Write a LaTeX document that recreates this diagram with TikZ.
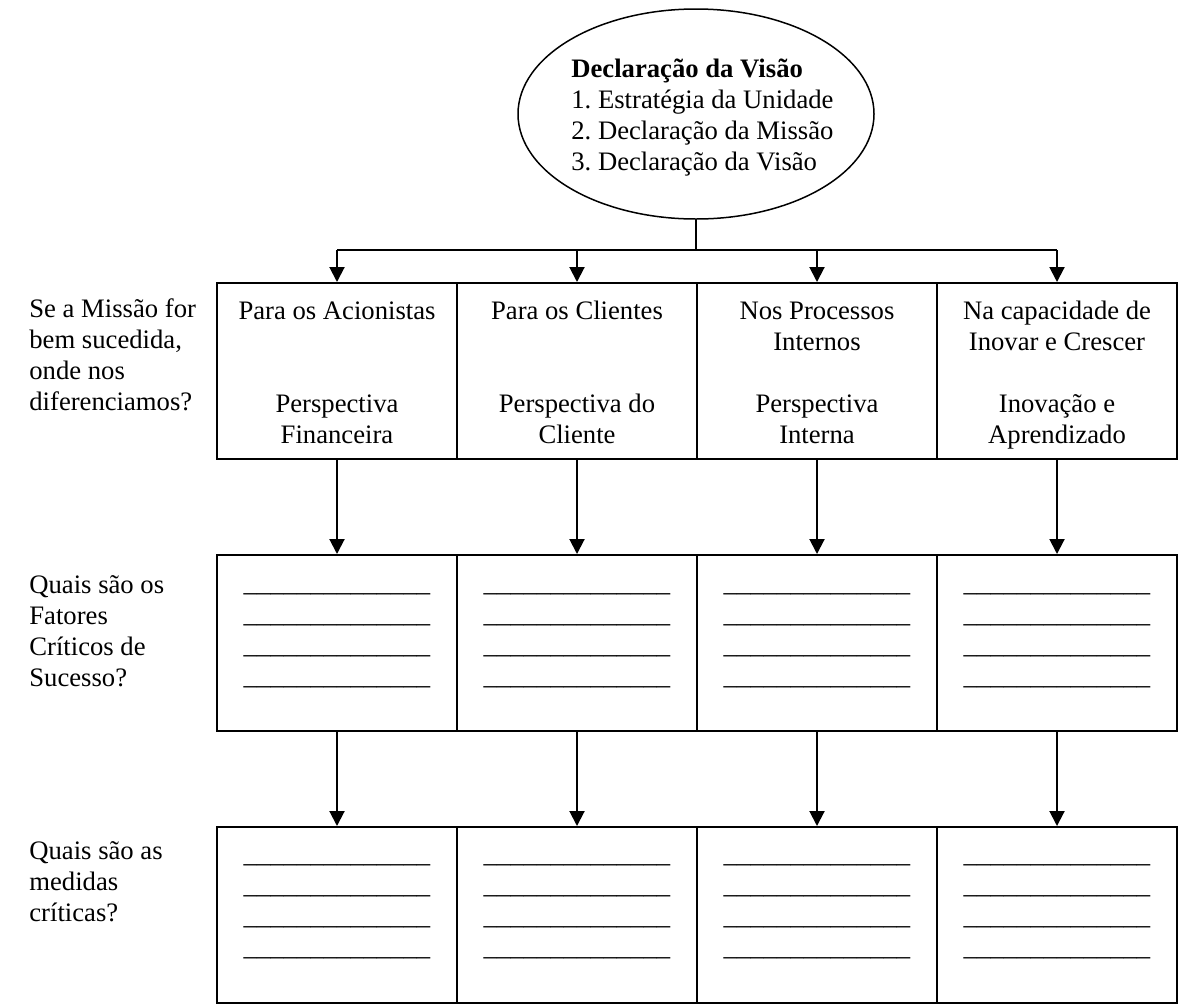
\documentclass[tikz,border=0pt]{standalone}
\usepackage{fontspec}
\setmainfont{Liberation Serif}
\usetikzlibrary{arrows.meta,shapes.geometric}
\frenchspacing

% fourteen underscores form one blank answer line
\newcommand{\blankfill}{\_\_\_\_\_\_\_\_\_\_\_\_\_\_}

\begin{document}
\begin{tikzpicture}[x=0.5pt,y=-0.5pt,
  every node/.style={font=\fontsize{13.33}{15.5}\selectfont},
  oval/.style={draw,ellipse,line width=0.75pt,minimum width=178pt,minimum height=105pt,inner sep=0pt},
  cell/.style={draw,line width=1pt,minimum width=120pt,minimum height=88pt,inner sep=0pt},
  celltext/.style={anchor=north,align=center,inner sep=0pt},
  sidetext/.style={anchor=north west,align=left,inner sep=0pt},
  wire/.style={line width=1pt},
  link/.style={line width=1pt,-{Triangle[length=7.5pt,width=7.5pt]}},
]
\useasboundingbox (0,0) rectangle (1203,1007);

% vision statement at the top
\node[oval] (vis) at (696,114) {};
\node[sidetext] (vistxt) at (571,55.3)
  {\strut\textbf{Declaração da Visão}\\1. Estratégia da Unidade\\2. Declaração da Missão\\3. Declaração da Visão};

% row 1: perspectives
\node[cell] (p1) at (337,371) {};
\node[cell] (p2) at (577,371) {};
\node[cell] (p3) at (817,371) {};
\node[cell] (p4) at (1057,371) {};
\node[celltext] (p1t) at (337,297.3) {\strut Para os Acionistas\\\strut\\\strut\\Perspectiva\\Financeira};
\node[celltext] (p2t) at (577,297.3) {\strut Para os Clientes\\\strut\\\strut\\Perspectiva do\\Cliente};
\node[celltext] (p3t) at (817,297.3) {\strut Nos Processos\\Internos\\\strut\\Perspectiva\\Interna};
\node[celltext] (p4t) at (1057,297.3) {\strut Na capacidade de\\Inovar e Crescer\\\strut\\Inovação e\\Aprendizado};

% row 2: critical success factors
\foreach \i/\x in {1/337,2/577,3/817,4/1057}{
  \node[cell] (f\i) at (\x,643) {};
  \node[celltext] (f\i t) at (\x,568.9) {\strut\blankfill\\\blankfill\\\blankfill\\\blankfill};
}

% row 3: critical measures
\foreach \i/\x in {1/337,2/577,3/817,4/1057}{
  \node[cell] (m\i) at (\x,915) {};
  \node[celltext] (m\i t) at (\x,840.6) {\strut\blankfill\\\blankfill\\\blankfill\\\blankfill};
}

% questions on the left
\node[sidetext] (q1) at (29,295.3) {\strut Se a Missão for\\bem sucedida,\\onde nos\\diferenciamos?};
\node[sidetext] (q2) at (29,571) {\strut Quais são os\\Fatores\\Críticos de\\Sucesso?};
\node[sidetext] (q3) at (29,837.6) {\strut Quais são as\\medidas\\críticas?};

% connectors
\coordinate (hub) at (696,250);
\draw[wire] (vis.south) -- (hub);
\draw[wire] (hub -| p1.north) -- (hub -| p4.north);
\foreach \i in {1,2,3,4}{
  \draw[link] (hub -| p\i.north) -- (p\i.north);
  \draw[link] (p\i.south) -- (f\i.north);
  \draw[link] (f\i.south) -- (m\i.north);
}
\end{tikzpicture}
\end{document}
